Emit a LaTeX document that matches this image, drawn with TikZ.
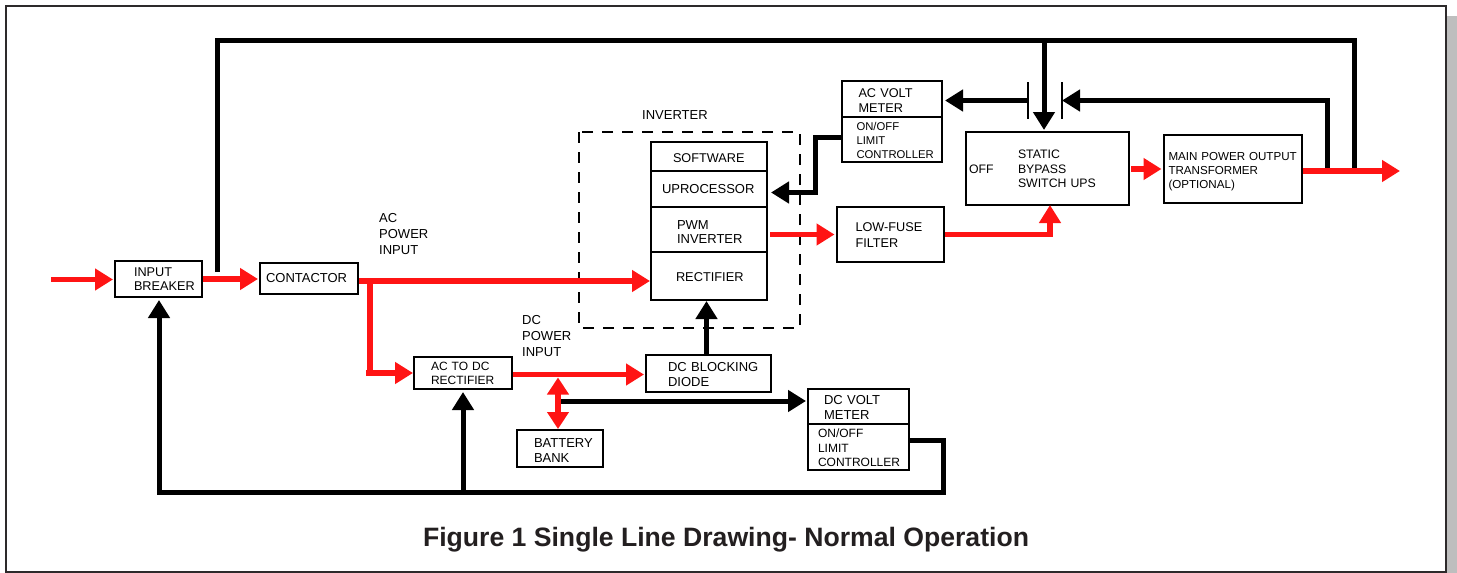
\documentclass[tikz,border=0pt]{standalone}
\usepackage{fontspec}
\setmainfont{Liberation Sans}
\usepackage{xcolor}
\usetikzlibrary{arrows.meta}
\definecolor{powerred}{RGB}{255,20,20}
\definecolor{framegray}{RGB}{45,42,43}
\definecolor{shadowgray}{RGB}{190,190,190}
\definecolor{titleblack}{RGB}{35,31,32}

\begin{document}
\begin{tikzpicture}[x=1pt, y=-1pt,
% width, height, left offset, font size, line spacing, shift down
box/.style n args={6}{rectangle, draw=black, line width=2pt, minimum height=#2pt, text width=#1pt, inner xsep=0pt, inner ysep=0pt, align=left, font=\fontsize{#4}{#5}\selectfont, execute at begin node={\leftskip=#3pt\relax}, execute at end node={\endgraf\kern-#6pt\relax}},
plain/.style={inner sep=0pt, align=left, anchor=west, font=\fontsize{13}{15.8}\selectfont},
redline/.style={draw=powerred, line width=5.5pt, -{Triangle[length=18pt,width=21pt]}},
redwire/.style={draw=powerred, line width=5.5pt},
blackline/.style={draw=black, line width=5pt, -{Triangle[length=18pt,width=21pt]}},
wire/.style={draw=black, line width=5pt},
]
\useasboundingbox (0,0) rectangle (1457,573);
\fill[shadowgray] (1446,16) rectangle (1457,573);
\draw[framegray, line width=2pt, fill=white] (6,5.5) rectangle (1446,572);
%Nodes
\node[box={87}{36}{19}{12.7}{14.7}{0}] (breaker) at (158.5,279) {INPUT\\BREAKER};
\node[box={98}{31}{6}{13}{15}{0}] (contactor) at (309,278.5) {CONTACTOR};
\node[box={98}{32}{17}{12}{14.5}{1}] (acdc) at (463,373) {AC TO DC\\RECTIFIER};
\node[box={125}{37}{22}{13}{15}{2}] (blocking) at (708.5,373.5) {DC BLOCKING\\DIODE};
\node[box={86}{37}{17}{13}{15.6}{4}] (battery) at (560,448.5) {BATTERY\\BANK};
\node[box={101}{35}{16}{13}{15.6}{2}] (dcmeter) at (858.5,406.5) {DC VOLT\\METER};
\node[box={101}{46}{10}{12}{14.5}{2}] (dclimit) at (858.5,447) {ON/OFF\\LIMIT\\CONTROLLER};
\node[box={116}{29}{22}{12.7}{15}{0}] (software) at (709,156.5) {\raisebox{-6.4pt}[0pt][0pt]{SOFTWARE}};
\node[box={116}{36}{11}{13}{15}{0}] (uproc) at (709,189) {UPROCESSOR};
\node[box={116}{45}{26}{13}{14.7}{5}] (pwm) at (709,229.5) {PWM\\INVERTER};
\node[box={116}{48}{25}{12.8}{15}{0}] (rectifier) at (709,276) {\raisebox{-5.9pt}[0pt][0pt]{RECTIFIER}};
\node[box={107}{55}{19}{12.7}{16}{2}] (filter) at (890,234.5) {LOW-FUSE\\FILTER};
\node[box={100}{36}{17}{12.7}{15.4}{3}] (acmeter) at (891.5,99) {AC VOLT\\METER};
\node[box={100}{45}{15}{11.3}{14}{2}] (aclimit) at (891.5,139.5) {ON/OFF\\LIMIT\\CONTROLLER};
\node[box={163}{73}{3}{12.3}{14.7}{1}] (bypass) at (1047.5,168.5) {\hspace*{49pt}STATIC\\\leavevmode\rlap{OFF}\hspace*{49pt}BYPASS\\\hspace*{49pt}SWITCH UPS};
\node[box={138}{68}{5}{11.6}{14}{5}] (mainout) at (1232.5,169) {MAIN POWER OUTPUT\\TRANSFORMER\\(OPTIONAL)};
\node[plain] (aclabel) at (379,234) {AC\\POWER\\INPUT};
\node[plain] (dclabel) at (522,336) {DC\\POWER\\INPUT};
\node[plain] (invlabel) at (642,115.5) {INVERTER};
\node[inner sep=0pt, font=\bfseries\fontsize{26.6}{30}\selectfont, text=titleblack] (caption) at (726,540) {Figure 1 Single Line Drawing- Normal Operation};
\draw[line width=2pt, dash pattern=on 11pt off 9pt] (579,132) rectangle (800,328);
%Coordinates
\coordinate (mainin) at (51,279.5);
\coordinate (acsplit) at (370,281);
\coordinate (dcsplit) at (558,374.5);
\coordinate (toptee) at (1044,40);
\coordinate (bottomtee) at (463,492);
\coordinate (bottomleft) at (159,492);
\coordinate (topleft) at (217,40);
\coordinate (topright) at (1354,40);
\coordinate (outtip) at (1400,171);
\coordinate (barleft) at (1028,100.5);
\coordinate (barright) at (1062,100.5);
%Switch bars
\draw[line width=1.5pt] (1028,82) -- (barleft) -- (1028,119);
\draw[line width=1.5pt] (1062,82) -- (barright) -- (1062,119);
%Lines
\draw[redline] (mainin) -- ([xshift=-1pt]breaker.west |- mainin);
\draw[redline] (breaker.east) -- ([xshift=-1pt,yshift=-0.5pt]contactor.west);
\draw[redline] (contactor.east |- acsplit) -- (acsplit) -- ([yshift=-5pt]rectifier.west);
\draw[redwire] (acsplit) -- (370,375);
\draw[redline] (366,373) -- (acdc.west);
\draw[redline] (acdc.east |- dcsplit) -- ([xshift=-1pt,yshift=-1pt]blocking.west);
\draw[draw=powerred, line width=5.5pt, {Triangle[length=17pt,width=21pt]}-{Triangle[length=17pt,width=21pt]}] ([yshift=-3pt]dcsplit) -- (battery.north -| dcsplit);
\draw[blackline] (561,401) -- ([xshift=-1pt]dcmeter.west |- 561,401);
\draw[blackline] (blocking.north -| 706.5,0) -- (706.5,301);
\draw[redline] ([xshift=2pt]pwm.east |- 0,234.5) -- ([xshift=-1pt]filter.west);
\draw[redline] (filter.east) -- (1050,234.5) -- ([yshift=1pt]bypass.south -| 1050,0);
\draw[redline] (1131,169) -- ([xshift=-1pt]mainout.west |- 0,169);
\draw[wire] (1327,171) -- (1327,100.5);
\draw[blackline] (1329.5,100.5) -- (barright);
\draw[blackline] (barleft) -- ([xshift=2.5pt]acmeter.east |- barleft);
\draw[wire] (217,272) -- (topleft) -- (topright) -- (1354,171);
\draw[redline] (mainout.east |- outtip) -- (outtip);
\draw[blackline] (toptee) -- ([yshift=1pt]bypass.north -| toptee);
\draw[blackline] (aclimit.west |- 0,137) -- (815,137) -- (815,192.5) -- ([xshift=3pt]uproc.east |- 0,192.5);
\draw[wire] (dclimit.east |- 0,440) -- (943,440) -- (943,492) -- (bottomleft);
\draw[blackline] (159,494.5) -- ([yshift=-2pt]breaker.south -| bottomleft);
\draw[blackline] (bottomtee) -- ([yshift=-2pt]acdc.south);
\end{tikzpicture}
\end{document}
